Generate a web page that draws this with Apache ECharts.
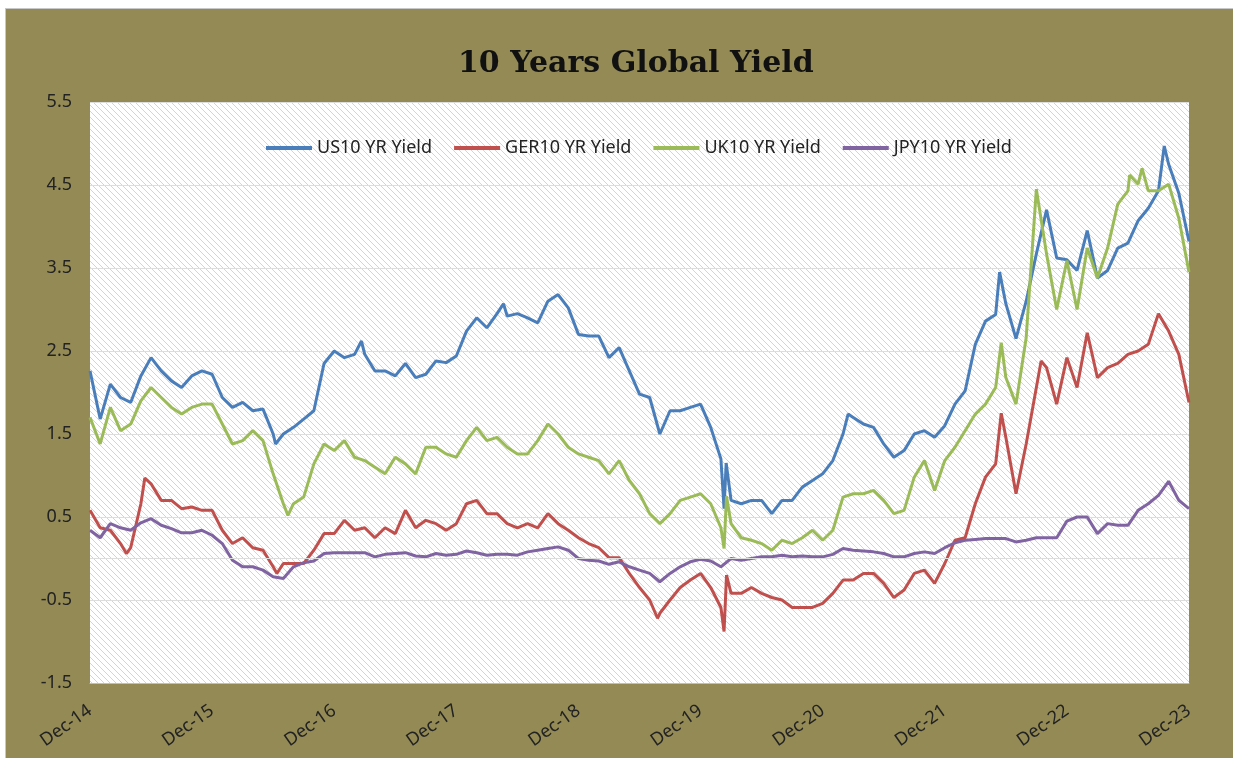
<!DOCTYPE html>
<html>
<head>
<meta charset="utf-8">
<title>10 Years Global Yield</title>
<script src="https://cdn.jsdelivr.net/npm/echarts@6/dist/echarts.min.js"></script>
<style>
  html, body { margin: 0; padding: 0; background: #ffffff; }
  #chart {
    position: absolute;
    left: 5px;
    top: 8px;
    width: 1228px;
    height: 750px;
    box-sizing: border-box;
    border-left: 1px solid #c8c8c8;
    border-top: 1px solid #c8c8c8;
  }
</style>
</head>
<body>
<div id="chart"></div>
<script>
  // 月度读数从 2014-12 到 2023-12，共109个
  const startYear = 2014
  const startMonth = 12
  const monthCount = 109

  // 美国10年期（月度）
  const us10 = [
    2.26,
    1.68, 2.1, 1.94, 1.88, 2.2, 2.42, 2.26, 2.14, 2.06, 2.2, 2.26, 2.22,
    1.94, 1.82, 1.88, 1.78, 1.8, 1.5, 1.5, 1.58, 1.68, 1.78, 2.35, 2.5,
    2.42, 2.46, 2.46, 2.26, 2.26, 2.2, 2.35, 2.18, 2.22, 2.38, 2.36, 2.44,
    2.74, 2.9, 2.78, 2.95, 2.92, 2.95, 2.9, 2.84, 3.1, 3.18, 3.02, 2.7,
    2.68, 2.68, 2.42, 2.54, 2.26, 1.98, 1.94, 1.5, 1.78, 1.78, 1.82, 1.86,
    1.58, 1.2, 0.7, 0.66, 0.7, 0.7, 0.54, 0.7, 0.7, 0.86, 0.94, 1.02,
    1.18, 1.5, 1.7, 1.62, 1.58, 1.38, 1.22, 1.3, 1.5, 1.54, 1.46, 1.6,
    1.86, 2.02, 2.58, 2.86, 2.94, 3.07, 2.65, 3.1, 3.67, 4.2, 3.62, 3.6,
    3.47, 3.95, 3.38, 3.47, 3.74, 3.8, 4.07, 4.22, 4.43, 4.75, 4.4, 3.82
  ]
  // 德国10年期（月度）
  const ger10 = [
    0.58,
    0.37, 0.34, 0.18, 0.13, 0.66, 0.9, 0.7, 0.7, 0.6, 0.62, 0.58, 0.58,
    0.34, 0.18, 0.25, 0.13, 0.1, -0.1, -0.06, -0.06, -0.06, 0.1, 0.3, 0.3,
    0.46, 0.34, 0.37, 0.25, 0.37, 0.3, 0.58, 0.37, 0.46, 0.42, 0.34, 0.42,
    0.66, 0.7, 0.54, 0.54, 0.42, 0.37, 0.42, 0.37, 0.54, 0.42, 0.34, 0.25,
    0.18, 0.13, 0.01, 0.01, -0.18, -0.35, -0.5, -0.66, -0.5, -0.35, -0.26, -0.18,
    -0.35, -0.59, -0.42, -0.42, -0.35, -0.42, -0.47, -0.5, -0.59, -0.59, -0.59, -0.54,
    -0.42, -0.26, -0.26, -0.18, -0.18, -0.3, -0.47, -0.38, -0.18, -0.14, -0.3, -0.06,
    0.22, 0.25, 0.66, 0.98, 1.14, 1.46, 0.78, 1.38, 2.06, 2.3, 1.86, 2.42,
    2.06, 2.72, 2.18, 2.3, 2.35, 2.46, 2.5, 2.58, 2.95, 2.74, 2.46, 1.88
  ]
  // 英国10年期（月度）
  const uk10 = [
    1.7,
    1.38, 1.82, 1.54, 1.62, 1.9, 2.06, 1.94, 1.82, 1.74, 1.82, 1.86, 1.86,
    1.62, 1.38, 1.42, 1.54, 1.42, 1.02, 0.66, 0.66, 0.74, 1.14, 1.38, 1.3,
    1.42, 1.22, 1.18, 1.1, 1.02, 1.22, 1.14, 1.02, 1.34, 1.34, 1.26, 1.22,
    1.42, 1.58, 1.42, 1.46, 1.34, 1.26, 1.26, 1.42, 1.62, 1.5, 1.34, 1.26,
    1.22, 1.18, 1.02, 1.18, 0.94, 0.78, 0.54, 0.42, 0.54, 0.7, 0.74, 0.78,
    0.66, 0.37, 0.42, 0.25, 0.22, 0.18, 0.1, 0.22, 0.18, 0.25, 0.34, 0.22,
    0.34, 0.74, 0.78, 0.78, 0.82, 0.7, 0.54, 0.58, 0.98, 1.18, 0.82, 1.18,
    1.34, 1.54, 1.74, 1.86, 2.06, 2.18, 1.86, 2.66, 4.45, 3.67, 3.0, 3.59,
    3.0, 3.74, 3.38, 3.74, 4.27, 4.43, 4.51, 4.43, 4.43, 4.51, 4.1, 3.45
  ]
  // 日本10年期（月度）
  const jpy10 = [
    0.34,
    0.25, 0.42, 0.37, 0.34, 0.43, 0.48, 0.4, 0.36, 0.31, 0.31, 0.34, 0.28,
    0.18, -0.02, -0.1, -0.1, -0.14, -0.22, -0.24, -0.1, -0.05, -0.03, 0.06, 0.07,
    0.07, 0.07, 0.07, 0.02, 0.05, 0.06, 0.07, 0.03, 0.02, 0.06, 0.04, 0.05,
    0.09, 0.07, 0.04, 0.05, 0.05, 0.04, 0.08, 0.1, 0.12, 0.14, 0.1, 0.0,
    -0.02, -0.03, -0.07, -0.04, -0.1, -0.14, -0.18, -0.28, -0.18, -0.1, -0.04, -0.01,
    -0.03, -0.1, 0.0, -0.02, 0.0, 0.02, 0.02, 0.04, 0.02, 0.03, 0.02, 0.02,
    0.05, 0.12, 0.1, 0.09, 0.08, 0.06, 0.02, 0.02, 0.06, 0.08, 0.06, 0.13,
    0.19, 0.22, 0.23, 0.24, 0.24, 0.24, 0.2, 0.22, 0.25, 0.25, 0.25, 0.45,
    0.5, 0.5, 0.3, 0.42, 0.4, 0.4, 0.58, 0.66, 0.76, 0.93, 0.7, 0.6
  ]

  // 月中的尖峰/低点读数 [日期, 值]
  const us10Spikes = [
    ['2016-06-08', 1.38], ['2017-02-20', 2.62], ['2018-04-20', 3.07],
    ['2020-02-10', 0.6], ['2020-02-16', 1.15], ['2021-02-15', 1.74],
    ['2022-05-13', 3.45], ['2023-09-18', 4.97]
  ]
  const ger10Spikes = [
    ['2015-03-19', 0.06], ['2015-05-13', 0.97], ['2016-06-12', -0.18],
    ['2019-07-25', -0.72], ['2020-02-10', -0.88], ['2020-02-17', -0.2],
    ['2022-05-18', 1.75], ['2022-09-15', 2.38]
  ]
  const uk10Spikes = [
    ['2016-07-15', 0.52], ['2020-02-10', 0.12], ['2020-02-17', 0.75],
    ['2022-05-18', 2.6], ['2023-06-06', 4.62], ['2023-07-13', 4.7]
  ]
  const jpy10Spikes = []

  const seriesNames = ['US10 YR Yield', 'GER10 YR Yield', 'UK10 YR Yield', 'JPY10 YR Yield']
  const seriesColors = ['#4a7ebb', '#c0504d', '#9bbb59', '#8064a2']
  const seriesMonthly = [us10, ger10, uk10, jpy10]
  const seriesSpikes = [us10Spikes, ger10Spikes, uk10Spikes, jpy10Spikes]

  // 日期 -> 距 2014-12-01 的月数（可带小数）
  const monthPos = (s) => {
    const p = s.split('-').map(Number)
    const dim = new Date(p[0], p[1], 0).getDate()
    return (p[0] - startYear) * 12 + (p[1] - startMonth) + (p[2] - 1) / dim
  }
  const buildData = (monthly, spikes) => {
    const pts = monthly.map((v, i) => [i, v])
    spikes.forEach((d) => pts.push([monthPos(d[0]), d[1]]))
    return pts.sort((a, b) => a[0] - b[0])
  }

  // 绘图区的斜线底纹
  const hatch = document.createElement('canvas')
  const s = 6
  hatch.width = s
  hatch.height = s
  const ctx = hatch.getContext('2d')
  ctx.fillStyle = '#ffffff'
  ctx.fillRect(0, 0, s, s)
  ctx.strokeStyle = '#d4d4d4'
  ctx.lineWidth = 1
  for (let k = -1; k <= 1; k++) {
    ctx.beginPath()
    ctx.moveTo(0, k * s)
    ctx.lineTo(s, s + k * s)
    ctx.stroke()
  }

  const labelFont = 'Noto Sans, sans-serif'
  const chart = echarts.init(document.getElementById('chart'))
  chart.setOption({
    backgroundColor: '#948a56',
    animation: false,
    title: {
      text: '10 Years Global Yield',
      left: 447,
      top: 35,
      textStyle: {
        fontFamily: 'DejaVu Serif',
        fontWeight: 'bold',
        fontSize: 30,
        color: '#111111'
      }
    },
    legend: {
      left: 255,
      top: 125,
      icon: 'rect',
      itemWidth: 46,
      itemHeight: 4,
      itemGap: 22,
      textStyle: {
        fontFamily: labelFont,
        fontSize: 18,
        color: '#222222'
      },
      data: seriesNames
    },
    grid: {
      left: 84,
      right: 44,
      top: 93,
      bottom: 75,
      show: true,
      borderWidth: 0,
      backgroundColor: { image: hatch, repeat: 'repeat' }
    },
    xAxis: {
      type: 'value',
      min: 0,
      max: monthCount - 1,
      interval: 12,
      axisLine: { show: true, onZero: false, lineStyle: { color: '#bfbfbf' } },
      axisTick: { show: false },
      splitLine: { show: false },
      axisLabel: {
        rotate: 35,
        margin: 26,
        fontFamily: labelFont,
        fontSize: 18,
        color: '#222222',
        formatter: (v) => 'Dec-' + String(startYear + v / 12).slice(2)
      }
    },
    yAxis: {
      type: 'value',
      min: -1.5,
      max: 5.5,
      interval: 1,
      axisLine: { show: false },
      axisTick: { show: false },
      splitLine: { lineStyle: { color: '#dddddd', width: 1 } },
      axisLabel: {
        margin: 18,
        fontFamily: labelFont,
        fontSize: 18,
        color: '#222222',
        formatter: (v) => v.toFixed(1)
      }
    },
    series: seriesNames.map((name, i) => ({
      name: name,
      type: 'line',
      data: buildData(seriesMonthly[i], seriesSpikes[i]),
      symbol: 'none',
      color: seriesColors[i],
      lineStyle: { width: 3, color: seriesColors[i] },
      markLine: i === 0
        ? {
            silent: true,
            symbol: 'none',
            label: { show: false },
            lineStyle: { color: '#dddddd', width: 1, type: 'solid' },
            data: [{ yAxis: 0 }]
          }
        : undefined
    }))
  })
</script>
</body>
</html>
